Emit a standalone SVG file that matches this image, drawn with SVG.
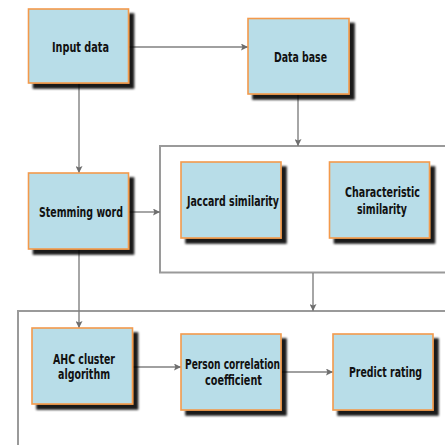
<svg xmlns="http://www.w3.org/2000/svg" width="445" height="445" viewBox="0 0 445 445">
  <defs>
    <marker id="arrow" viewBox="0 0 10 10" refX="10" refY="5" markerWidth="8" markerHeight="7" markerUnits="userSpaceOnUse" orient="auto">
      <path d="M0,0 L10,5 L0,10 L2,5 Z" fill="#6e6e6e"/>
    </marker>
    <filter id="shadow" x="-10%" y="-10%" width="130%" height="130%">
      <feGaussianBlur in="SourceAlpha" stdDeviation="1.3"/>
      <feOffset dx="4.5" dy="4.5" result="off"/>
      <feComponentTransfer><feFuncA type="linear" slope="0.9"/></feComponentTransfer>
      <feMerge><feMergeNode/><feMergeNode in="SourceGraphic"/></feMerge>
    </filter>
  </defs>
  <style>
    .box { fill: #b8dde8; stroke: #f39a4c; stroke-width: 1.6; filter: url(#shadow); }
    .frame { fill: none; stroke: #9a9a9a; stroke-width: 2; }
    .link { fill: none; stroke: #808080; stroke-width: 1.4; }
    text { font-family: "DejaVu Sans Condensed", "DejaVu Sans", sans-serif; font-weight: bold; font-size: 14px; fill: #111; text-anchor: middle; }
  </style>
  <rect width="445" height="445" fill="#ffffff"/>

  <!-- grouping frames -->
  <g id="similarity-frame">
    <path class="frame" d="M447,146 L160,146 L160,272.5 L447,272.5"/>
  </g>
  <g id="rating-frame">
    <path class="frame" d="M447,311 L18,311 L18,447"/>
  </g>

  <!-- connectors -->
  <g id="connectors">
    <line class="link" x1="128" y1="47" x2="248" y2="47" marker-end="url(#arrow)"/>
    <line class="link" x1="79" y1="83" x2="79" y2="173" marker-end="url(#arrow)"/>
    <line class="link" x1="298" y1="94" x2="298" y2="146" marker-end="url(#arrow)"/>
    <line class="link" x1="128" y1="212" x2="160" y2="212" marker-end="url(#arrow)"/>
    <line class="link" x1="79" y1="249" x2="79" y2="328" marker-end="url(#arrow)"/>
    <line class="link" x1="313" y1="273" x2="313" y2="311" marker-end="url(#arrow)"/>
    <line class="link" x1="133" y1="367" x2="181" y2="367" marker-end="url(#arrow)"/>
    <line class="link" x1="281" y1="372" x2="333" y2="372" marker-end="url(#arrow)"/>
  </g>

  <!-- nodes -->
  <g id="input-data">
    <rect class="box" x="28.5" y="9" width="100" height="74"/>
    <text x="80.5" y="52" textLength="57" lengthAdjust="spacingAndGlyphs">Input data</text>
  </g>
  <g id="data-base">
    <rect class="box" x="248" y="18.5" width="101" height="75.5"/>
    <text x="300.5" y="62" textLength="53" lengthAdjust="spacingAndGlyphs">Data base</text>
  </g>
  <g id="stemming-word">
    <rect class="box" x="28.5" y="173" width="100" height="76"/>
    <text x="81" y="217" textLength="84" lengthAdjust="spacingAndGlyphs">Stemming word</text>
  </g>
  <g id="jaccard-similarity">
    <rect class="box" x="181" y="162" width="100" height="76"/>
    <text x="233" y="205.5" textLength="92" lengthAdjust="spacingAndGlyphs">Jaccard similarity</text>
  </g>
  <g id="characteristic-similarity">
    <rect class="box" x="329.5" y="162" width="100" height="76"/>
    <text x="382.5" y="197" textLength="75" lengthAdjust="spacingAndGlyphs">Characteristic</text>
    <text x="382" y="214" textLength="50" lengthAdjust="spacingAndGlyphs">similarity</text>
  </g>
  <g id="ahc-cluster">
    <rect class="box" x="32" y="328" width="100.5" height="76"/>
    <text x="84" y="364" textLength="62" lengthAdjust="spacingAndGlyphs">AHC cluster</text>
    <text x="84" y="379" textLength="52" lengthAdjust="spacingAndGlyphs">algorithm</text>
  </g>
  <g id="person-correlation">
    <rect class="box" x="181" y="334" width="100" height="76"/>
    <text x="232.5" y="369" textLength="95" lengthAdjust="spacingAndGlyphs">Person correlation</text>
    <text x="233.5" y="385" textLength="57" lengthAdjust="spacingAndGlyphs">coefficient</text>
  </g>
  <g id="predict-rating">
    <rect class="box" x="333" y="334" width="100" height="76"/>
    <text x="385.5" y="377" textLength="73" lengthAdjust="spacingAndGlyphs">Predict rating</text>
  </g>
</svg>
